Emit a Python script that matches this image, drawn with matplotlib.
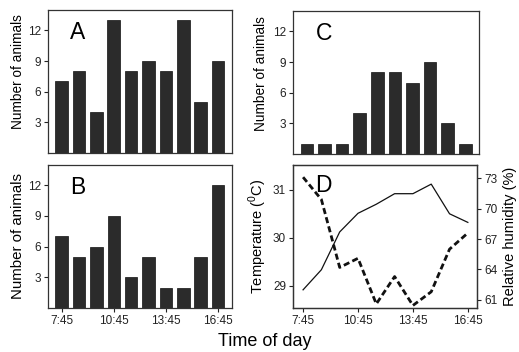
import matplotlib
matplotlib.use("Agg")
import matplotlib.pyplot as plt
import numpy as np

plt.rcParams['font.family'] = ['Liberation Sans', 'DejaVu Sans']
plt.rcParams['mathtext.fontset'] = 'custom'
plt.rcParams['mathtext.rm'] = 'Liberation Sans'

times = ["7:45", "8:45", "9:45", "10:45", "11:45", "12:45", "13:45", "14:45", "15:45", "16:45"]
tick_labels = ["7:45", "10:45", "13:45", "16:45"]
counts_A = [7, 8, 4, 13, 8, 9, 8, 13, 5, 9]
counts_B = [7, 5, 6, 9, 3, 5, 2, 2, 5, 12]
counts_C = [1, 1, 1, 4, 8, 8, 7, 9, 3, 1]
temperature = [28.91, 29.33, 30.12, 30.51, 30.70, 30.92, 30.92, 31.12, 30.50, 30.32]
humidity = [73.1, 70.9, 64.2, 65.1, 60.6, 63.3, 60.45, 61.8, 66.0, 67.6]

W, H = 519, 352
fig = plt.figure(figsize=(W / 100, H / 100), dpi=100)

def box(l, t, r, b):
    return [l / W, 1 - b / H, (r - l) / W, (b - t) / H]

x = np.arange(len(times))
tick_idx = [times.index(t) for t in tick_labels]
bar_color = '#2b2b2b'

def style(ax):
    for s in ax.spines.values():
        s.set_color('#333333')
        s.set_linewidth(0.9)
    ax.tick_params(axis='both', direction='out', length=3, width=0.8,
                   labelsize=8.5, colors='#222222', pad=2)

def bar_panel(ax, vals, letter, show_x, lab_size, lab_xy):
    ax.bar(x, vals, width=0.72, color=bar_color, edgecolor='#111111', linewidth=0.5)
    ax.set_xlim(-0.77, 9.78)
    ax.set_ylim(0, 14)
    ax.set_yticks([3, 6, 9, 12])
    style(ax)
    if show_x:
        ax.set_xticks(tick_idx)
        ax.set_xticklabels(tick_labels)
    else:
        ax.set_xticks([])
    ax.set_ylabel("Number of animals", fontsize=lab_size)
    ax.yaxis.set_label_coords(*lab_xy)
    ax.text(0.12, 0.92, letter, transform=ax.transAxes, fontsize=16.5,
            va='top', ha='left')

axA = fig.add_axes(box(48, 10, 231.7, 153))
bar_panel(axA, counts_A, "A", False, 9.8, (-0.125, 0.57))
axB = fig.add_axes(box(48.3, 164.5, 231.7, 308))
bar_panel(axB, counts_B, "B", True, 10.8, (-0.125, 0.5))
axC = fig.add_axes(box(293.3, 11, 479, 154))
bar_panel(axC, counts_C, "C", False, 9.8, (-0.135, 0.565))

axD = fig.add_axes(box(293, 165, 477, 308))
axD.plot(x, temperature, color='#111111', linewidth=0.9)
axD.set_xlim(-0.55, 9.5)
axD.set_ylim(28.53, 31.52)
axD.set_yticks([29, 30, 31])
axD.set_xticks(tick_idx)
axD.set_xticklabels(tick_labels)
style(axD)
axD.set_ylabel(r"Temperature ($^{\mathrm{0}}$C)", fontsize=10.5)
axD.yaxis.set_label_coords(-0.13, 0.5)
axD.text(0.12, 0.94, "D", transform=axD.transAxes, fontsize=16.5,
         va='top', ha='left')

axD2 = axD.twinx()
axD2.plot(x, humidity, color='#111111', linewidth=2.0, linestyle=(0, (2.2, 1.2)))
axD2.set_ylim(60.2, 74.3)
axD2.set_yticks([61, 64, 67, 70, 73])
style(axD2)
axD2.set_ylabel("Relative humidity (%)", fontsize=10.5, labelpad=4)

fig.text(265 / W, 1 - 342 / H, "Time of day", fontsize=13, ha='center', va='center')

fig.savefig("out.png", dpi=100)
